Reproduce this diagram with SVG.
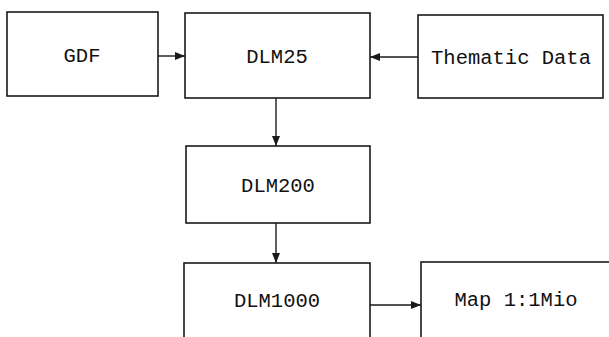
<svg xmlns="http://www.w3.org/2000/svg" width="609" height="337" viewBox="0 0 609 337">
<style>
.box{fill:#fff;stroke:#1a1a1a;stroke-width:1.6}
.lbl{font-family:"Liberation Mono","DejaVu Sans Mono",monospace;font-size:20.5px;fill:#111;text-anchor:middle}
.con{stroke:#1a1a1a;stroke-width:1.4;fill:none;marker-end:url(#ah)}
</style>
<defs>
<marker id="ah" viewBox="0 0 10 8" refX="10" refY="4" markerWidth="10" markerHeight="8" markerUnits="userSpaceOnUse" orient="auto">
<path d="M0,0 L10,4 L0,8 Z" fill="#1a1a1a"/>
</marker>
</defs>
<rect width="609" height="337" fill="#fff"/>
<g id="connectors">
<line class="con" x1="158" y1="56" x2="185" y2="56"/>
<line class="con" x1="418" y1="57" x2="370" y2="57"/>
<line class="con" x1="276" y1="98" x2="276" y2="146"/>
<line class="con" x1="276" y1="223" x2="276" y2="263"/>
<line class="con" x1="370" y1="305" x2="421" y2="305"/>
</g>
<g id="gdf">
<rect class="box" x="7" y="12" width="151" height="84"/>
<text class="lbl" x="82" y="62">GDF</text>
</g>
<g id="dlm25">
<rect class="box" x="185" y="13" width="185" height="85"/>
<text class="lbl" x="277" y="63">DLM25</text>
</g>
<g id="thematic">
<rect class="box" x="418" y="15" width="185" height="83"/>
<text class="lbl" x="511" y="64">Thematic Data</text>
</g>
<g id="dlm200">
<rect class="box" x="186" y="146" width="184" height="77"/>
<text class="lbl" x="278" y="192">DLM200</text>
</g>
<g id="dlm1000">
<rect class="box" x="184" y="263" width="186" height="90"/>
<text class="lbl" x="277" y="307">DLM1000</text>
</g>
<g id="map">
<rect class="box" x="421" y="262" width="200" height="90"/>
<text class="lbl" x="516" y="306">Map 1:1Mio</text>
</g>
</svg>
